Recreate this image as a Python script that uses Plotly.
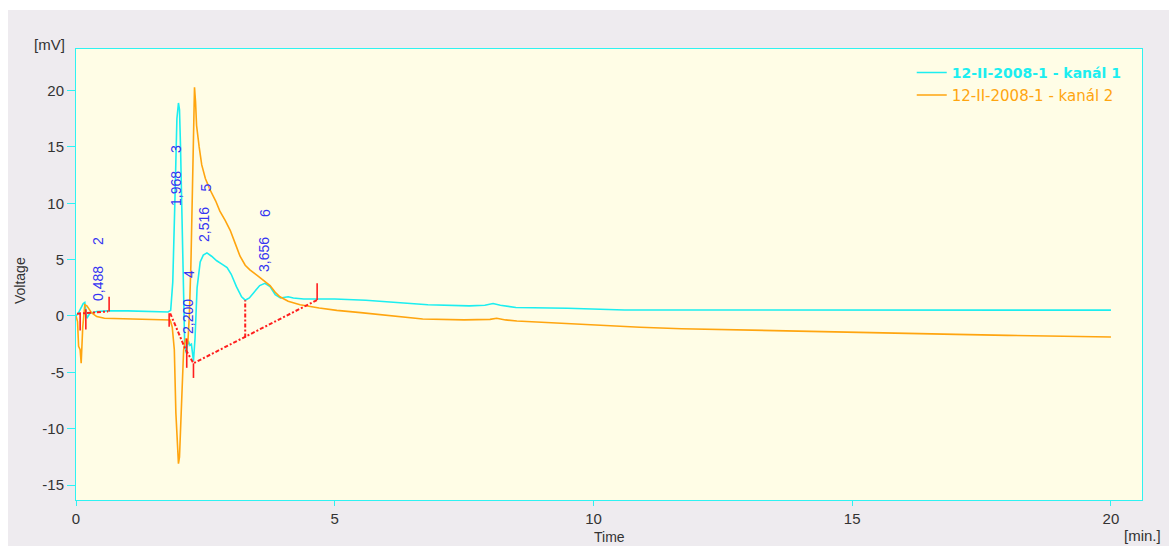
import plotly.graph_objects as go

# ---- data (time in min, voltage in mV) ----
ch1_t = [0.00, 0.05, 0.14, 0.17, 0.21, 0.27, 0.40, 0.60, 1.00, 1.40, 1.78, 1.83, 1.87, 1.91, 1.95,
         1.98, 2.00, 2.02, 2.05, 2.07, 2.10, 2.13, 2.17, 2.20, 2.23, 2.27, 2.30, 2.34, 2.40, 2.46,
         2.53, 2.62, 2.72, 2.82, 2.92, 3.00, 3.10, 3.20, 3.27, 3.35, 3.45, 3.55, 3.65, 3.75, 3.85,
         3.95, 4.10, 4.20, 4.40, 5.00, 5.60, 6.26, 6.80, 7.60, 7.90, 8.06, 8.20, 8.50, 9.50, 10.60,
         15.00, 20.00]
ch1_v = [0.00, 0.30, 1.10, 1.20, -0.20, 0.25, 0.40, 0.45, 0.45, 0.40, 0.35, 0.50, 3.00, 10.00, 17.50,
         18.90, 18.30, 15.00, 8.00, 2.00, -2.50, -3.30, -2.20, -2.60, -2.50, -4.00, -2.00, 2.50, 4.80, 5.40,
         5.60, 5.30, 4.90, 4.60, 4.30, 3.70, 2.60, 1.70, 1.40, 1.60, 2.20, 2.70, 2.90, 2.60, 1.90,
         1.60, 1.70, 1.60, 1.50, 1.50, 1.40, 1.20, 1.00, 0.90, 0.95, 1.10, 0.95, 0.75, 0.68, 0.53,
         0.52, 0.52]

ch2_t = [0.00, 0.03, 0.05, 0.08, 0.10, 0.13, 0.17, 0.21, 0.30, 0.40, 0.55, 1.00, 1.50, 1.82, 1.86,
         1.90, 1.93, 1.96, 1.98, 2.00, 2.02, 2.05, 2.08, 2.12, 2.16, 2.19, 2.22, 2.25, 2.27, 2.29,
         2.31, 2.33, 2.38, 2.43, 2.50, 2.59, 2.70, 2.78, 2.88, 2.98, 3.08, 3.17, 3.27, 3.36, 3.50,
         3.62, 3.75, 3.85, 3.94, 4.10, 4.33, 4.70, 5.04, 5.50, 6.26, 6.70, 7.50, 8.00, 8.13, 8.30,
         8.52, 9.30, 9.87, 10.26, 10.90, 11.70, 12.80, 13.55, 14.60, 15.90, 17.00, 18.00, 19.00, 20.00]
ch2_v = [0.00, -0.50, -2.70, -3.00, -4.20, -1.00, 1.00, 0.90, 0.30, -0.05, -0.20, -0.25, -0.30, -0.35, -1.00,
         -3.00, -8.60, -12.00, -13.10, -12.50, -10.40, -6.00, -3.00, -2.00, -2.50, 0.00, 4.50, 11.20, 17.00, 20.30,
         19.00, 16.90, 15.00, 13.40, 12.20, 11.20, 10.20, 9.30, 8.50, 7.60, 6.40, 5.30, 4.50, 4.10, 3.60,
         3.20, 2.70, 2.10, 1.70, 1.30, 1.00, 0.70, 0.50, 0.30, -0.05, -0.27, -0.35, -0.30, -0.20, -0.35,
         -0.45, -0.65, -0.80, -0.90, -1.00, -1.13, -1.24, -1.33, -1.45, -1.54, -1.63, -1.72, -1.80, -1.86]

# integration baselines (dotted) and peak markers (solid ticks)
base1_t = [0.02, 0.62]
base1_v = [0.20, 0.40]
base2_t = [1.82, 2.11, 2.27, 4.66]
base2_v = [0.24, -2.90, -4.20, 1.42]
drop_t = [3.27, 3.27]
drop_v = [-1.90, 1.40]
tick_t = [0.08, 0.19, 0.64, 1.80, 2.14, 2.27, 4.66]
tick_lo = [-1.30, -1.20, 0.40, -0.95, -4.60, -5.50, 1.42]
tick_hi = [0.30, 0.60, 1.70, 0.24, -2.00, -4.20, 2.90]

# peak labels (retention time and peak number)
peak_rt = ["0,488", "1,968", "2,200", "2,516", "3,656"]
peak_no = ["2", "3", "4", "5", "6"]
rt_x = [0.425, 1.933, 2.165, 2.474, 3.634]
rt_y = [2.93, 11.27, -0.09, 8.07, 5.41]
no_x = [0.425, 1.933, 2.184, 2.494, 3.653]
no_y = [6.65, 14.82, 3.73, 11.40, 9.14]

x_ticks = [0, 5, 10, 15, 20]
x_ticktext = ["0", "5", "10", "15", "20"]
y_ticks = [-15, -10, -5, 0, 5, 10, 15, 20]
y_ticktext = ["-15", "-10", "-5", "0", "5", "10", "15", "20"]

CYAN = "#1CEEF0"
ORANGE = "#FFA50F"
RED = "#FF1E1E"
BLUE = "#3434F2"
FRAME = "#2EF2F2"

fig = go.Figure()
fig.add_trace(go.Scatter(x=ch1_t, y=ch1_v, mode="lines", line=dict(color=CYAN, width=1.6),
                         name='<b><span style="color:%s;font-size:14px">12-II-2008-1 - kanál 1</span></b>' % CYAN))
fig.add_trace(go.Scatter(x=ch2_t, y=ch2_v, mode="lines", line=dict(color=ORANGE, width=1.6),
                         name='<span style="color:%s">12-II-2008-1 - kanál 2</span>' % ORANGE))

dotted = dict(color=RED, width=2, dash="4px,2px,2px,2px")
for bt, bv in [(base1_t, base1_v), (base2_t, base2_v), (drop_t, drop_v)]:
    fig.add_trace(go.Scatter(x=bt, y=bv, mode="lines", line=dotted, showlegend=False, hoverinfo="skip"))
tx, ty = [], []
for t, lo, hi in zip(tick_t, tick_lo, tick_hi):
    tx += [t, t, None]
    ty += [lo, hi, None]
fig.add_trace(go.Scatter(x=tx, y=ty, mode="lines", line=dict(color=RED, width=1.6),
                         showlegend=False, hoverinfo="skip"))

annots = []
lab_font = dict(family="Liberation Sans, Arial", size=14, color=BLUE)
for txt, x, y in list(zip(peak_rt, rt_x, rt_y)) + list(zip(peak_no, no_x, no_y)):
    annots.append(dict(x=x, y=y, xref="x", yref="y", text=txt, showarrow=False, textangle=-90,
                       xanchor="center", yanchor="middle", font=lab_font))

ax_font = dict(family="Liberation Sans, Arial", size=15, color="#333333")
annots += [
    dict(x=-0.0244, y=1.0089, xref="paper", yref="paper", text="[mV]", showarrow=False,
         xanchor="center", yanchor="middle", font=ax_font),
    dict(x=-0.0525, y=0.4856, xref="paper", yref="paper", text="Voltage", showarrow=False,
         textangle=-90, xanchor="center", yanchor="middle",
         font=dict(family="Liberation Sans, Arial", size=14, color="#333333")),
    dict(x=0.5, y=-0.0820, xref="paper", yref="paper", text="Time", showarrow=False,
         xanchor="center", yanchor="middle",
         font=dict(family="Liberation Sans, Arial", size=14, color="#333333")),
    dict(x=1.0, y=-0.0798, xref="paper", yref="paper", text="[min.]", showarrow=False,
         xanchor="center", yanchor="middle", font=ax_font),
]

shapes = [
    dict(type="rect", xref="paper", yref="paper", x0=-0.1, x1=1.1, y0=1.0865, y1=1.2,
         fillcolor="white", line=dict(width=0), layer="below"),
    dict(type="rect", xref="paper", yref="paper", x0=-0.1, x1=-0.0638, y0=-0.2, y1=1.2,
         fillcolor="white", line=dict(width=0), layer="below"),
]

fig.update_layout(
    width=1169, height=546,
    margin=dict(l=76, r=27, t=49, b=46),
    paper_bgcolor="#EEEBEF",
    plot_bgcolor="#FFFDE6",
    font=dict(family="Liberation Sans, Arial", size=15, color="#333333"),
    showlegend=True,
    legend=dict(x=0.784, y=0.984, xanchor="left", yanchor="top", bgcolor="rgba(0,0,0,0)",
                font=dict(family="DejaVu Sans", size=15), tracegroupgap=0),
    annotations=annots,
    shapes=shapes,
    xaxis=dict(range=[0, 20.6], tickvals=x_ticks, ticktext=x_ticktext, ticks="outside", ticklen=5,
               tickcolor=FRAME, showline=True, linecolor=FRAME, mirror=True, linewidth=1,
               showgrid=False, zeroline=False, tickfont=ax_font),
    yaxis=dict(range=[-16.33, 23.69], tickvals=y_ticks, ticktext=y_ticktext, ticks="outside", ticklen=8,
               tickcolor=FRAME, showline=True, linecolor=FRAME, mirror=True, linewidth=1,
               showgrid=False, zeroline=False, tickfont=ax_font),
)

fig.write_html("out.html")
